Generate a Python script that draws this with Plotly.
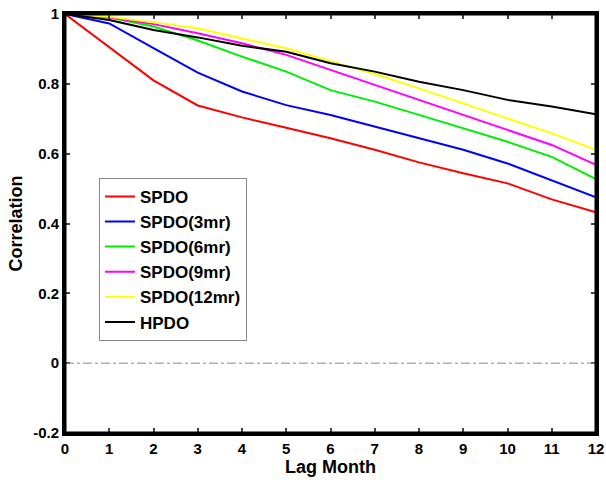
import plotly.graph_objects as go

months = list(range(13))
spdo     = [1.0, 0.905, 0.810, 0.738, 0.704, 0.674, 0.644, 0.611, 0.575, 0.544, 0.515, 0.469, 0.432]
spdo3    = [1.0, 0.973, 0.902, 0.832, 0.778, 0.739, 0.711, 0.677, 0.644, 0.611, 0.572, 0.523, 0.475]
spdo6    = [1.0, 0.990, 0.964, 0.924, 0.878, 0.835, 0.782, 0.749, 0.711, 0.673, 0.634, 0.591, 0.527]
spdo9    = [1.0, 0.990, 0.971, 0.945, 0.916, 0.883, 0.840, 0.797, 0.754, 0.711, 0.668, 0.625, 0.568]
spdo12   = [1.0, 0.992, 0.976, 0.959, 0.930, 0.902, 0.865, 0.828, 0.787, 0.744, 0.701, 0.658, 0.611]
hpdo     = [1.0, 0.983, 0.954, 0.933, 0.909, 0.892, 0.859, 0.835, 0.806, 0.782, 0.754, 0.735, 0.713]

names = ["SPDO", "SPDO(3mr)", "SPDO(6mr)", "SPDO(9mr)", "SPDO(12mr)", "HPDO"]
colors = ["#ff0000", "#0000ff", "#00ee00", "#ff00ff", "#ffff00", "#000000"]
series = [spdo, spdo3, spdo6, spdo9, spdo12, hpdo]

x_ticks = list(range(13))
y_ticks = [-0.2, 0, 0.2, 0.4, 0.6, 0.8, 1]
y_ticktext = ["-0.2", "0", "0.2", "0.4", "0.6", "0.8", "1"]

fig = go.Figure()
for n, c, s in zip(names, colors, series):
    fig.add_trace(go.Scatter(x=months, y=s, mode="lines", name=n, legendgroup=n,
                             line=dict(color=c, width=2)))

fig.add_hline(y=0, line=dict(color="#888888", width=1, dash="dashdot"))
# plot frame
fig.add_shape(type="rect", xref="paper", yref="paper", x0=0, x1=1, y0=0, y1=1,
              line=dict(color="black", width=3), fillcolor="rgba(0,0,0,0)", layer="above")

font_fam = "Liberation Sans, Arial, sans-serif"
fig.update_layout(
    width=606, height=484,
    margin=dict(l=65, r=10, t=14, b=51, autoexpand=False),
    plot_bgcolor="white", paper_bgcolor="white",
    font=dict(family=font_fam, color="black", size=15, weight="bold"),
    showlegend=True,
    legend=dict(x=0.064, y=0.609, xanchor="left", yanchor="top",
                bgcolor="white", bordercolor="#888888", borderwidth=1,
                font=dict(size=17, family=font_fam, weight="bold"),
                tracegroupgap=0, itemwidth=30),
    xaxis=dict(range=[0, 12], tickvals=x_ticks, ticks="inside", ticklen=5,
               tickwidth=2, showline=True, linewidth=3, linecolor="black",
               mirror="ticks", showgrid=False, zeroline=False, automargin=False,
               title=dict(text="Lag Month", font=dict(size=18), standoff=4),
               tickfont=dict(size=15)),
    yaxis=dict(range=[-0.2, 1], tickvals=y_ticks, ticktext=y_ticktext,
               ticks="inside", ticklen=5, tickwidth=2, showline=True,
               linewidth=3, linecolor="black", mirror="ticks", automargin=False,
               showgrid=False, zeroline=False,
               title=dict(text="Correlation", font=dict(size=18), standoff=6),
               tickfont=dict(size=15)),
)

fig.write_html("out.html", config={"displayModeBar": False},
               post_script="document.body.style.margin='0';document.body.style.overflow='hidden';")
